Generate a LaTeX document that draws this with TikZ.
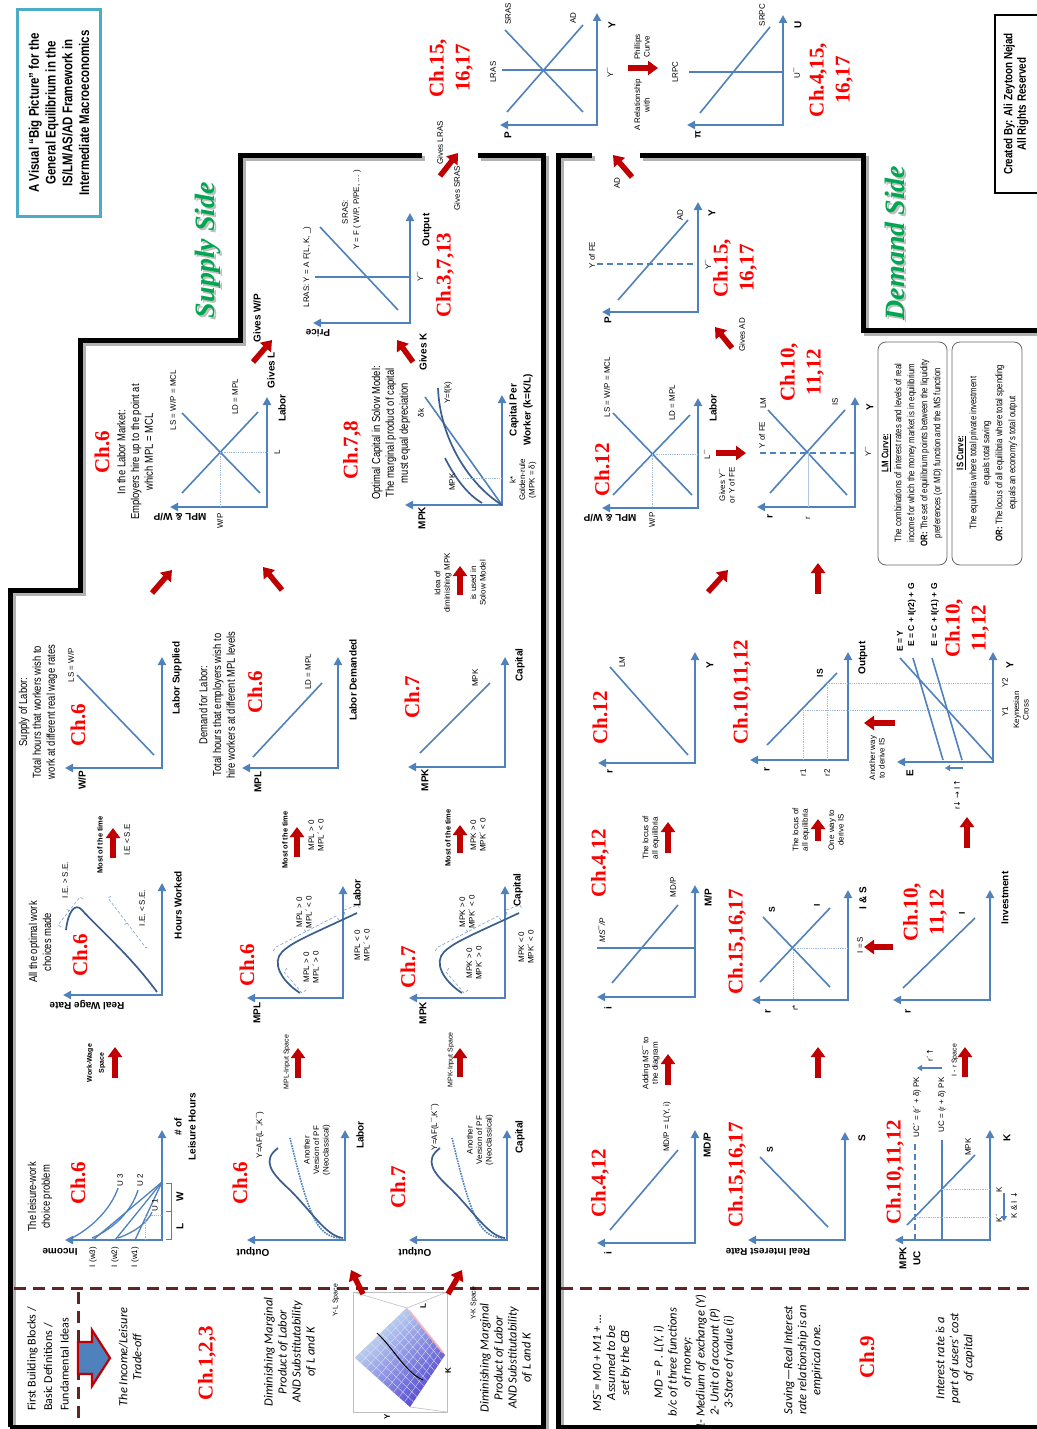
\documentclass[tikz,border=0pt]{standalone}
\usepackage{fontspec}
\setmainfont{Liberation Sans}
\newfontfamily\narfont[FakeStretch=0.82]{Liberation Sans}
\newfontfamily\calfont{Carlito}
\newfontfamily\chfont{Liberation Serif}
\newfontfamily\arrfont{DejaVu Sans}
\usetikzlibrary{arrows.meta,calc}

\definecolor{axblue}{HTML}{4F81BD}
\definecolor{crvblue}{HTML}{3A5F8F}
\definecolor{chred}{HTML}{FF0000}
\definecolor{arrred}{HTML}{C00000}
\definecolor{sidegreen}{HTML}{00A651}
\definecolor{dashbrown}{HTML}{632523}
\definecolor{boxcyan}{HTML}{4BACC6}
\definecolor{surflight}{HTML}{CDE6F7}
\definecolor{surfmid}{HTML}{A9CDEF}
\definecolor{surfdark}{HTML}{5546D0}

% axes of one small graph: origin x, origin y, left end x, top end y
\newcommand{\axes}[4]{\draw[axpair] (#3,#2) -- (#1,#2) -- (#1,#4);}

\tikzset{
  axpair/.style={draw=axblue, line width=2pt, line join=miter,
    {Triangle[length=8pt,width=8pt]}-{Triangle[length=8pt,width=8pt]}},
  ln/.style={draw=axblue, line width=1.6pt},
  crv/.style={draw=crvblue, line width=1.7pt},
  guide/.style={draw=axblue!55, line width=0.8pt, densely dotted},
  brk/.style={draw=axblue!75, line width=0.6pt, densely dashed},
  fe/.style={draw=axblue, line width=1.6pt, dash pattern=on 6pt off 4pt},
  barr/.style={draw=axblue, line width=1.5pt, -{Triangle[length=5pt,width=6pt]}},
  redarr/.style={draw=arrred, line width=5.5pt, -{Triangle[length=10pt,width=14pt]}},
  lab/.style={rotate=90, inner sep=0pt, align=center, font=\fontsize{8}{9.5}\selectfont},
  labb/.style={rotate=90, inner sep=0pt, align=center, font=\bfseries\fontsize{8.5}{10}\selectfont},
  desc/.style={rotate=90, inner sep=0pt, align=center, font=\narfont\fontsize{11.5}{13.8}\selectfont},
  axt/.style={rotate=90, inner sep=0pt, align=center, font=\bfseries\fontsize{10}{14}\selectfont},
  axf/.style={rotate=180, inner sep=0pt, font=\bfseries\fontsize{10}{12}\selectfont},
  chap/.style={rotate=90, inner sep=0pt, align=center, text=chred, font=\chfont\bfseries\fontsize{21}{26}\selectfont},
  note/.style={rotate=90, inner sep=0pt, align=center, font=\calfont\itshape\fontsize{12.5}{14}\selectfont},
  side/.style={rotate=90, inner sep=0pt, font=\chfont\bfseries\itshape\fontsize{28}{30}\selectfont},
  defbox/.style={draw=black!60, line width=0.8pt, rounded corners=8pt},
}

\begin{document}
\begin{tikzpicture}[x=1pt,y=-1pt]
\useasboundingbox (0,0) rectangle (1036,1429);
\fill[white] (0,0) rectangle (1036,1429);

% === Title and credits ===
\draw[boxcyan, line width=3pt] (17,10) rectangle (100,216);
\node[rotate=90, align=center, inner sep=0pt, font=\narfont\bfseries\fontsize{14}{16.8}\selectfont] (title) at (59,113)
  {A Visual “Big Picture” for the\\General Equilibrium in the\\IS/LM/AS/AD Framework in\\Intermediate Macroeconomics};
\draw[black, line width=2.5pt] (995,15) rectangle (1050,193);
\node[rotate=90, align=center, inner sep=0pt, font=\narfont\bfseries\fontsize{12}{13.5}\selectfont] (credit) at (1016,104)
  {Created By: Ali Zeytoon Nejad\\All Rights Reserved};

\node[side, text=black!25] (supsh) at (210,252) {Supply Side};
\node[side, text=sidegreen] (supply) at (208,250) {Supply Side};
\node[side, text=black!25] (demsh) at (897,245) {Demand Side};
\node[side, text=sidegreen] (demand) at (895,243) {Demand Side};

% === Walls of the two sides ===
\foreach \s/\c in {3/black!30, 0/black}{
  \begin{scope}[shift={(\s,\s)}, line width=5pt, line join=miter]
    \draw[\c] (10,1427) -- (10,590) -- (80,590) -- (80,340) -- (240,340) -- (240,155) -- (422,155);
    \draw[\c] (478,155) -- (543,155) -- (543,1427) -- (10,1427);
    \draw[\c] (592,155) -- (558,155) -- (558,1427) -- (1040,1427);
    \draw[\c] (640,155) -- (863,155) -- (863,330) -- (1040,330);
  \end{scope}}

\begin{scope}[dashbrown, line width=3pt, dash pattern=on 12pt off 7pt]
  \draw (14,1288) -- (540,1288);
  \draw (561,1288) -- (1036,1288);
  \draw (78,1292) -- (78,1424);
\end{scope}
\draw[arrred, line width=2.2pt, fill=axblue, line join=miter]
  (78,1342) -- (92,1342) -- (92,1330) -- (110,1358) -- (92,1386) -- (92,1374) -- (78,1374) -- cycle;

% === Fundamental ideas (bottom strip) ===
\node[note, align=left, font=\calfont\fontsize{12}{16.5}\selectfont] (basics) at (48,1359)
  {First Building Blocks /\\Basic Definitions /\\Fundamental Ideas};
\node[note] (tradeoff) at (130,1357) {The Income/Leisure\\Trade-off};
\node[chap] (c123) at (207,1363) {Ch.1,2,3};
\node[note] (dimL) at (290,1352) {Diminishing Marginal\\Product of Labor\\AND Substitutability\\of L and K};
\node[note] (dimK) at (506,1358) {Diminishing Marginal\\Product of Labor\\AND Substitutability\\of L and K};
\node[note] (msnote) at (612,1363) {MS¯= M0 + M1 + …\\Assumed to be\\set by the CB};
\node[note] (mdnote) at (694,1362) {MD = P . L(Y, i)\\b/c of three functions\\of money:\\1- Medium of exchange (Y)\\2- Unit of account (P)\\3-Store of value (i)};
\node[note] (savnote) at (803,1360) {Saving—Real Interest\\rate relationship is an\\empirical one.};
\node[chap] (c9) at (867,1357) {Ch.9};
\node[note] (ucnote) at (955,1358) {Interest rate is a\\part of users’ cost\\of capital};

% production surface
\draw[gray!50, line width=0.6pt] (353,1292) rectangle (447,1412);
\draw[gray!50, line width=0.6pt] (353,1292) -- (407,1308) -- (447,1292) (407,1308) -- (355,1358) (410,1407) -- (447,1412);
\coordinate (sA) at (355,1358); \coordinate (sB) at (407,1308);
\coordinate (sC) at (445,1355); \coordinate (sD) at (410,1407);
\shade[top color=surflight, middle color=surfmid, bottom color=surfdark, shading angle=45]
  (sA) -- (sB) -- (sC) -- (sD) -- cycle;
\foreach \t in {0.1,0.2,...,0.9}{
  \draw[white!60!surfmid, line width=0.3pt] ($(sA)!\t!(sB)$) -- ($(sD)!\t!(sC)$);
  \draw[white!60!surfmid, line width=0.3pt] ($(sA)!\t!(sD)$) -- ($(sB)!\t!(sC)$);
}
\draw[red!30, line width=2pt, opacity=0.8] ($(sB)!0.05!(sC)$) -- ($(sB)!0.95!(sC)$);
\draw[black, line width=1pt] (377,1333) .. controls (395,1350) and (405,1372) .. (423,1380);
\node[axt, font=\bfseries\fontsize{8}{9}\selectfont] (sy) at (387,1417) {Y};
\node[axt, font=\bfseries\fontsize{8}{9}\selectfont] (sk) at (448,1371) {K};
\node[axt, font=\bfseries\fontsize{8}{9}\selectfont] (sl) at (423,1306) {L};
\node[lab, font=\fontsize{7}{8}\selectfont] (ylsp) at (336,1300) {Y-L Space};
\node[lab, font=\fontsize{7}{8}\selectfont] (yksp) at (474,1303) {Y-K Space};
\draw[redarr] (363,1294) -- (351,1270);
\draw[redarr] (448,1294) -- (462,1270);

% === Supply side: leisure and work ===
\axes{162}{1240}{65}{1130}
\foreach \ix in {93,115,135} \draw[ln, line width=1.3pt] (162,1182) -- (\ix,1240);
\draw[ln, line width=1.3pt] (72,1238) .. controls (95,1226) and (112,1206) .. (118,1188);
\draw[ln, line width=1.3pt] (92,1238) .. controls (115,1228) and (132,1210) .. (138,1190);
\draw[ln, line width=1.3pt] (118,1238) .. controls (135,1232) and (148,1222) .. (152,1212);
\draw[guide] (145,1240) -- (145,1215) -- (162,1215);
\draw[axblue, line width=0.8pt] (166,1183) -- (171,1183) -- (171,1239) -- (166,1239) (171,1211) -- (166,1211);
\node[chap] (c6a) at (78,1183) {Ch.6};
\node[desc] (lwtxt) at (40,1197) {The leisure-work\\choice problem};
\node[axf] (g1v) at (60,1252) {Income};
\node[lab] (iw3) at (93,1257) {I (w3)};
\node[lab] (iw2) at (115,1257) {I (w2)};
\node[lab] (iw1) at (135,1257) {I (w1)};
\node[lab] (u3) at (120,1180) {U 3};
\node[lab] (u2) at (140,1180) {U 2};
\node[lab] (u1) at (155,1205) {U 1};
\node[axt] (g1w) at (180,1197) {W};
\node[axt] (g1l) at (180,1226) {L};
\node[axt] (g1h) at (185,1127) {\# of\\Leisure Hours};

\draw[redarr] (115,1078) -- (115,1047);
\node[lab, font=\bfseries\fontsize{7}{12}\selectfont] (wwsp) at (96,1063) {Work-Wage\\Space};

% backward bending supply
\axes{162}{995}{63}{883}
\draw[crv] (157,992) .. controls (130,955) and (95,925) .. (82,910) .. controls (75,902) and (68,912) .. (66,930);
\draw[brk] (61,927) -- (58,925) -- (80,897) -- (83,899) (69,911) -- (66,908);
\draw[brk] (111,896) -- (108,898) -- (146,948) -- (149,946) (127,923) -- (124,925);
\node[chap] (c6b) at (80,955) {Ch.6};
\node[desc] (optxt) at (40,942) {All the optimal work\\choices made};
\node[axf] (g2v) at (87,1005) {Real Wage Rate};
\node[axt] (g2h) at (178,905) {Hours Worked};
\node[lab] (ie1) at (65,880) {I.E. > S.E.};
\node[lab] (ie2) at (142,908) {I.E. < S.E.};

\draw[redarr] (113,858) -- (113,828);
\node[lab, font=\bfseries\fontsize{7.5}{9}\selectfont] (most1) at (100,845) {Most of the time};
\node[lab] (iese) at (127,840) {I.E < S.E};

% labor supply
\axes{162}{768}{65}{657}
\draw[ln] (154,755) -- (77,675);
\node[lab] (lslab) at (71,665) {LS = W/P};
\node[axt] (g3v) at (82,780) {W/P};
\node[axt] (g3h) at (177,678) {Labor Supplied};
\node[chap] (c6c) at (78,725) {Ch.6};
\node[desc] (lstxt) at (38,712) {Supply of Labor:\\Total hours that workers wish to\\work at different real wage rates};

\draw[redarr] (152,593) -- (172,570);
\draw[redarr] (282,590) -- (263,567);

% labor market
\axes{267}{507}{170}{397}
\draw[ln] (182,413) -- (260,493);
\draw[ln] (258,412) -- (182,493);
\draw[guide] (220,452) -- (267,452) (220,452) -- (220,507);
\node[lab] (g4ls) at (173,400) {LS = W/P = MCL};
\node[lab] (g4ld) at (235,397) {LD = MPL};
\node[lab] (g4l) at (277,452) {L};
\node[lab] (g4wp) at (220,521) {W/P};
\node[axf] (g4v) at (180,517) {MPL \& W/P};
\node[axt] (g4h) at (282,408) {Labor};
\node[chap] (c6d) at (102,452) {Ch.6};
\node[desc] (lmtxt) at (135,452) {In the Labor Market:\\Employers hire up to the point at\\which MPL = MCL};
\draw[redarr] (253,362) -- (272,340);
\node[axt] (giveswp) at (257,318) {Gives W/P};
\node[axt] (givesl) at (271,370) {Gives L};

% aggregate supply
\axes{410}{323}{313}{213}
\draw[ln] (315,277) -- (410,277);
\draw[ln] (320,227) -- (398,310);
\node[lab] (lrasf) at (307,267) {LRAS: Y = A F(L, K, \_)};
\node[lab] (srasf) at (345,212) {SRAS:};
\node[lab] (srasy) at (357,210) {Y = F ( W/P, P/PE, ... )};
\node[lab] (g5yb) at (420,277) {Y¯};
\node[axt] (g5h) at (427,230) {Output};
\node[axf] (g5v) at (318,333) {Price};
\node[chap] (c3713) at (445,275) {Ch.3,7,13};
\draw[redarr] (413,362) -- (397,340);
\node[axt] (givesk) at (423,352) {Gives K};
\draw[redarr] (440,176) -- (458,153);
\node[lab] (gvlras) at (440,143) {Gives LRAS};
\node[lab] (gvsras) at (457,188) {Gives SRAS};

% Solow model
\axes{502}{505}{405}{395}
\draw[ln] (425,397) -- (502,505);
\draw[crv] (502,505) .. controls (470,485) and (440,440) .. (438,388);
\draw[crv] (445,458) .. controls (455,478) and (468,495) .. (482,503);
\draw[guide] (463,478) -- (502,478);
\node[lab] (dk) at (421,413) {δk};
\node[lab] (fk) at (448,393) {Y=f(k)};
\node[lab] (smpk) at (452,482) {MPK};
\node[lab] (kstar) at (523,480) {k*\\Golden-rule\\(MPK = δ)};
\node[axt] (g6v) at (422,518) {MPK};
\node[axt] (g6h) at (521,410) {Capital Per\\Worker (k=K/L)};
\node[chap] (c78) at (352,450) {Ch.7,8};
\node[desc] (solowtxt) at (391,433) {Optimal Capital in Solow Model:\\The marginal product of capital\\must equal depreciation};
\draw[redarr] (460,595) -- (460,566);
\node[lab] (idea1) at (443,583) {Idea of\\diminishing MPK};
\node[lab] (idea2) at (478,583) {is used in\\Solow Model};

% production functions (labor, capital)
\foreach \dx in {0,162}{
  \begin{scope}[shift={(\dx,0)}]
    \axes{345}{1240}{247}{1130}
    \draw[axblue, line width=1.6pt, densely dotted] (340,1238) .. controls (316,1237) and (308,1212) .. (290,1138);
    \draw[crv] (343,1238) .. controls (326,1236) and (312,1212) .. (290,1190) .. controls (270,1172) and (262,1160) .. (278,1148);
    \axes{343}{998}{247}{886}
    \draw[crv] (300,993) .. controls (280,980) and (272,962) .. (282,952) .. controls (292,942) and (310,935) .. (357,913);
    \draw[brk] (287,968) -- (284,972) -- (302,993) -- (306,990);
    \draw[brk] (273,951) -- (276,947) -- (336,916) -- (339,920) (306,932) -- (303,928);
    \draw[brk] (345,915) -- (344,910) -- (358,905) -- (360,909);
  \end{scope}}
\node[lab] (pf1) at (260,1135) {Y=AF(L¯,K¯)};
\node[lab] (nc1) at (317,1150) {Another\\Version of PF\\(Neoclassical)};
\node[axf] (g7v) at (253,1252) {Output};
\node[axt] (g7h) at (360,1135) {Labor};
\node[chap] (c6e) at (240,1183) {Ch.6};
\node[lab] (pf2) at (435,1127) {Y=AF(L¯,K¯)};
\node[lab] (nc2) at (480,1140) {Another\\Version of PF\\(Neoclassical)};
\node[axf] (g10v) at (415,1252) {Output};
\node[axt] (g10h) at (520,1137) {Capital};
\node[chap] (c7a) at (398,1187) {Ch.7};

\draw[redarr] (298,1078) -- (298,1048);
\node[lab, font=\fontsize{7}{8}\selectfont] (mplsp) at (287,1062) {MPL-Input Space};
\draw[redarr] (460,1077) -- (460,1048);
\node[lab, font=\fontsize{7}{8}\selectfont] (mpksp) at (451,1060) {MPK-Input Space};

% marginal products
\node[lab] (mpl1) at (311,967) {MPL > 0\\MPL´ > 0};
\node[lab] (mpl2) at (304,912) {MPL > 0\\MPL´ < 0};
\node[lab] (mpl3) at (362,945) {MPL < 0\\MPL´ < 0};
\node[axt] (g8v) at (257,1013) {MPL};
\node[axt] (g8h) at (357,893) {Labor};
\node[chap] (c6f) at (247,965) {Ch.6};
\node[lab] (mpk1) at (474,963) {MPK > 0\\MPK´ > 0};
\node[lab] (mpk2) at (467,912) {MPK > 0\\MPK´ < 0};
\node[lab] (mpk3) at (526,947) {MPK < 0\\MPK´ < 0};
\node[axt] (g11v) at (423,1013) {MPK};
\node[axt] (g11h) at (518,890) {Capital};
\node[chap] (c7b) at (408,967) {Ch.7};

\draw[redarr] (297,857) -- (297,827);
\node[lab, font=\bfseries\fontsize{7.5}{9}\selectfont] (most2) at (285,840) {Most of the time};
\node[lab] (mplpos) at (316,835) {MPL > 0\\MPL´ < 0};
\draw[redarr] (460,853) -- (460,825);
\node[lab, font=\bfseries\fontsize{7.5}{9}\selectfont] (most3) at (448,838) {Most of the time};
\node[lab] (mpkpos) at (478,835) {MPK > 0\\MPK´ < 0};

% labor demand
\axes{338}{768}{242}{657}
\draw[ln] (253,757) -- (322,683);
\node[lab] (g9ld) at (308,672) {LD = MPL};
\node[axt] (g9v) at (258,782) {MPL};
\node[chap] (c6g) at (255,692) {Ch.6};
\node[axt] (g9h) at (353,680) {Labor Demanded};
\node[desc] (ldtxt) at (217,705) {Demand for Labor:\\Total hours that employers wish to\\hire workers at different MPL levels};

% MPK
\axes{505}{767}{408}{657}
\draw[ln] (420,753) -- (490,683);
\node[lab] (g12mpk) at (475,678) {MPK};
\node[axt] (g12v) at (425,780) {MPK};
\node[axt] (g12h) at (520,665) {Capital};
\node[chap] (c7c) at (412,697) {Ch.7};

% === Top: AS-AD and Phillips curve ===
\axes{597}{125}{500}{13}
\draw[ln] (502,70) -- (597,70);
\draw[ln] (505,30) -- (583,112);
\draw[ln] (583,25) -- (507,112);
\node[lab] (sras) at (508,14) {SRAS};
\node[lab] (adtop) at (573,18) {AD};
\node[lab] (lras) at (493,72) {LRAS};
\node[axt] (g13v) at (508,135) {P};
\node[axt] (g13h) at (612,25) {Y};
\node[lab] (g13yb) at (610,73) {Y¯};
\node[chap] (c151617a) at (451,68) {Ch.15,\\16,17};
\draw[redarr] (628,68) -- (658,68);
\node[lab] (phil) at (642,47) {Phillips\\Curve};
\node[lab] (relat) at (642,105) {A Relationship\\with};

\axes{783}{125}{687}{15}
\draw[ln] (689,72) -- (783,72);
\draw[ln] (700,113) -- (770,27);
\node[lab] (srpc) at (762,15) {SRPC};
\node[lab] (lrpc) at (675,72) {LRPC};
\node[axt] (g14v) at (698,135) {π};
\node[axt] (g14h) at (798,25) {U};
\node[lab] (g14ub) at (797,73) {U¯};
\node[chap] (c4151617) at (831,80) {Ch.4,15,\\16,17};

% === Demand side ===
\draw[redarr] (632,177) -- (613,155);
\node[lab] (adlab) at (617,183) {AD};

\axes{698}{312}{602}{202}
\draw[ln] (618,300) -- (688,220);
\draw[fe] (597,264) -- (698,264);
\node[lab] (yfe1) at (592,255) {Y of FE};
\node[lab] (g15ad) at (680,215) {AD};
\node[axt] (g15v) at (608,320) {P};
\node[axt] (g15h) at (712,213) {Y};
\node[lab] (g15yb) at (708,265) {Y¯};
\node[chap] (c151617b) at (735,268) {Ch.15,\\16,17};
\draw[redarr] (732,348) -- (715,327);
\node[lab] (givesad) at (742,335) {Gives AD};

\axes{698}{508}{602}{398}
\draw[ln] (613,413) -- (692,495);
\draw[ln] (690,415) -- (613,495);
\draw[guide] (652,454) -- (698,454) (652,454) -- (652,508);
\node[lab] (g16ls) at (607,387) {LS = W/P = MCL};
\node[lab] (g16ld) at (672,403) {LD = MPL};
\node[lab] (g16lb) at (707,455) {L¯};
\node[lab] (g16wp) at (652,520) {W/P};
\node[axf] (g16v) at (610,518) {MPL \& W/P};
\node[axt] (g16h) at (713,408) {Labor};
\node[chap] (c12a) at (602,470) {Ch.12};
\draw[redarr] (716,453) -- (746,453);
\node[lab] (givesy) at (727,485) {Gives Y¯\\or Y of FE};

\axes{855}{507}{757}{397}
\draw[ln] (768,410) -- (847,495);
\draw[ln] (845,410) -- (770,493);
\draw[fe] (760,453) -- (855,453);
\draw[draw=axblue!45, line width=0.8pt] (808,453) -- (808,507);
\node[lab] (yfe2) at (762,435) {Y of FE};
\node[lab] (g17lm) at (763,403) {LM};
\node[lab] (g17is) at (835,402) {IS};
\node[lab] (g17r) at (808,518) {r};
\node[axt] (g17v) at (770,517) {r};
\node[axt] (g17h) at (870,407) {Y};
\node[lab] (g17yb) at (868,452) {Y¯};
\node[chap] (c101112a) at (802,372) {Ch.10,\\11,12};

\draw[redarr] (708,592) -- (728,570);
\draw[redarr] (818,594) -- (818,563);

% definition boxes
\draw[defbox] (878,342) rectangle (947,565);
\node[rotate=90, inner sep=0pt, align=center, font=\narfont\fontsize{9.5}{13}\selectfont] (lmdef) at (912,453)
  {\textbf{\underline{LM Curve:}}\\The combinations of interest rates and levels of real\\income for which the money market is in equilibrium\\\textbf{OR:} The set of equilibrium points between the liquidity\\preferences (or MD) function and the MS function};
\draw[defbox] (952,342) rectangle (1022,565);
\node[rotate=90, inner sep=0pt, align=center, font=\narfont\fontsize{9.5}{13}\selectfont] (isdef) at (987,453)
  {\textbf{\underline{IS Curve:}}\\The equilibria where total private investment\\equals total saving\\\textbf{OR:} The locus of all equilibria where total spending\\equals an economy's total output};

% LM and IS
\axes{695}{763}{598}{652}
\draw[ln] (610,667) -- (688,755);
\node[lab] (g18lm) at (622,662) {LM};
\node[axt] (g18v) at (610,772) {r};
\node[axt] (g18h) at (710,665) {Y};
\node[chap] (c12b) at (600,718) {Ch.12};

\axes{848}{760}{750}{652}
\draw[ln] (767,745) -- (837,673);
\draw[guide] (803,710) -- (993,710) (827,683) -- (993,683) (803,710) -- (803,760) (827,683) -- (827,760);
\node[labb] (g19is) at (820,673) {IS};
\node[lab] (r1) at (803,773) {r1};
\node[lab] (r2) at (827,773) {r2};
\node[axt] (g19v) at (767,770) {r};
\node[axt] (g19h) at (863,658) {Output};
\node[chap] (c101112b) at (742,692) {Ch.10,11,12};
\draw[redarr] (895,723) -- (864,723);
\node[lab] (another) at (877,758) {Another way\\to derive IS};

\axes{993}{762}{897}{652}
\draw[ln] (993,760) -- (900,658);
\draw[ln] (943,760) -- (913,658);
\draw[ln] (962,760) -- (932,658);
\node[labb] (eyl) at (900,641) {E = Y};
\node[labb] (er2) at (912,615) {E = C + I(r2) + G};
\node[labb] (er1) at (935,615) {E = C + I(r1) + G};
\node[axt] (g20v) at (910,773) {E};
\node[axt] (g20h) at (1010,665) {Y};
\node[lab] (y1) at (1005,712) {Y1};
\node[lab] (y2) at (1005,683) {Y2};
\node[lab] (kcross) at (1021,710) {Keynesian\\Cross};
\node[chap] (c101112c) at (967,628) {Ch.10,\\11,12};
\draw[barr] (963,768) -- (945,768);
\node[lab] (rdown) at (957,795) {r{\arrfont↓} {\arrfont→} I{\arrfont↑}};
\draw[redarr] (967,848) -- (967,817);

\draw[redarr] (818,841) -- (818,819);
\node[lab] (locus2) at (801,830) {The locus of\\all equilibria};
\node[lab] (oneway) at (836,830) {One way to\\derive IS};

% money market
\axes{695}{997}{597}{885}
\draw[ln] (597,948) -- (695,948);
\draw[ln] (612,983) -- (678,905);
\node[lab, font=\itshape\fontsize{8}{9.5}\selectfont] (msp) at (602,930) {MS¯/P};
\node[lab] (g21md) at (673,887) {MD/P};
\node[axt] (g21v) at (608,1008) {i};
\node[axt] (g21h) at (708,898) {M/P};
\node[chap] (c412a) at (600,863) {Ch.4,12};
\draw[redarr] (668,853) -- (668,822);
\node[lab] (locus1) at (651,838) {The locus of\\all equilibria};

% saving and investment
\axes{848}{1000}{752}{890}
\draw[ln] (763,917) -- (830,987);
\draw[ln] (830,908) -- (760,982);
\draw[guide] (793,948) -- (848,948) (793,948) -- (793,1000);
\node[labb] (g22s) at (772,910) {S};
\node[labb] (g22i) at (817,905) {I};
\node[lab] (rstar) at (795,1008) {r*};
\node[axt] (g22v) at (768,1012) {r};
\node[axt] (g22h) at (863,898) {I \& S};
\node[chap] (c151617c) at (737,942) {Ch.15,16,17};
\draw[redarr] (893,947) -- (864,947);
\node[lab] (ieqs) at (860,945) {I = S};

\axes{990}{1000}{893}{890}
\draw[ln] (903,988) -- (975,918);
\node[labb] (g23i) at (962,913) {I};
\node[axt] (g23v) at (908,1012) {r};
\node[axt] (g23h) at (1005,898) {Investment};
\node[chap] (c101112d) at (925,912) {Ch.10,\\11,12};

% money demand
\axes{695}{1243}{597}{1130}
\draw[ln] (610,1230) -- (678,1150);
\node[lab] (mdl) at (667,1127) {MD/P = L(Y, i)};
\node[axt] (g24v) at (608,1253) {i};
\node[axt] (g24h) at (707,1145) {MD/P};
\node[chap] (c412b) at (600,1183) {Ch.4,12};
\draw[redarr] (668,1085) -- (668,1054);
\node[lab] (adding) at (651,1063) {Adding MS¯ to\\the diagram};

% saving
\axes{845}{1240}{748}{1132}
\draw[ln] (760,1157) -- (828,1227);
\node[labb] (g25s) at (770,1150) {S};
\node[axf] (g25v) at (768,1252) {Real Interest Rate};
\node[axt] (g25h) at (862,1138) {S};
\node[chap] (c151617d) at (737,1175) {Ch.15,16,17};
\draw[redarr] (818,1078) -- (818,1047);

% user cost of capital
\axes{990}{1240}{895}{1130}
\draw[ln] (907,1225) -- (975,1155);
\draw[ln] (942,1240) -- (942,1140);
\draw[fe] (915,1240) -- (915,1143);
\draw[guide] (942,1189) -- (990,1189) (915,1217) -- (990,1217);
\node[lab] (uc) at (942,1105) {UC = (r + δ) PK};
\node[lab] (ucp) at (917,1107) {UC´ = (r´ + δ) PK};
\draw[barr] (942,1068) -- (917,1068);
\node[lab] (rup) at (930,1055) {r´{\arrfont↑}};
\node[lab] (g26mpk) at (968,1147) {MPK};
\node[axt] (g26v) at (903,1258) {MPK};
\node[axt] (g26u) at (917,1258) {UC};
\node[axt] (g26h) at (1007,1138) {K};
\node[lab] (kk) at (999,1190) {K};
\node[lab] (kkp) at (999,1218) {K´};
\draw[barr] (1004,1193) -- (1004,1221);
\node[lab] (kidown) at (1014,1205) {K \& I {\arrfont↓}};
\node[chap] (c101112e) at (895,1172) {Ch.10,11,12};
\draw[redarr] (965,1077) -- (965,1047);
\node[lab, font=\fontsize{7}{8}\selectfont] (irsp) at (955,1060) {I - r Space};

\end{tikzpicture}
\end{document}
